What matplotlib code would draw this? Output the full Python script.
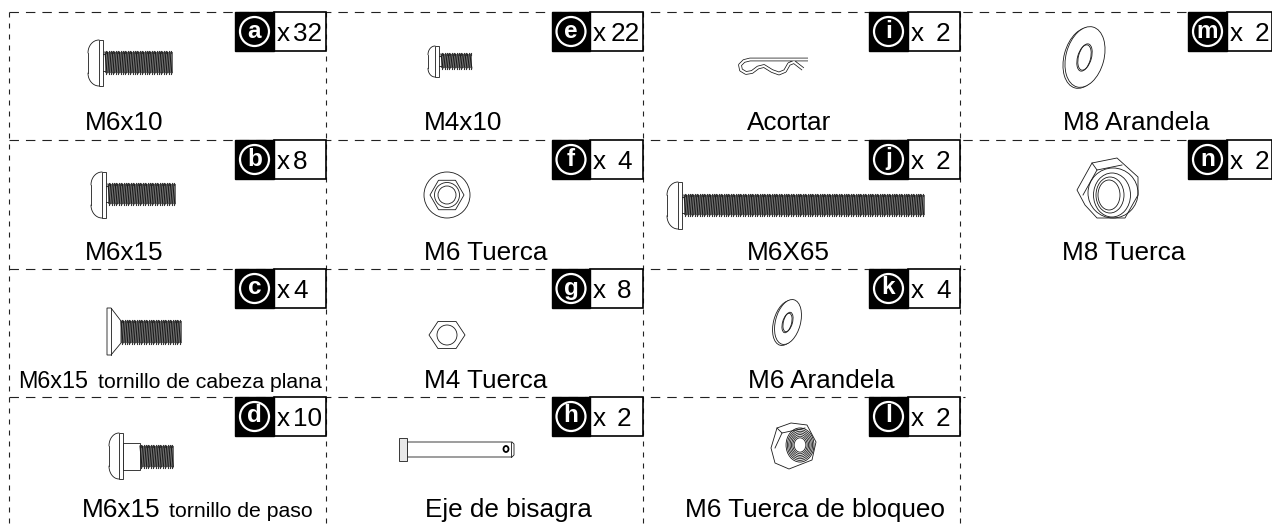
import numpy as np
import matplotlib
matplotlib.use('Agg')
import matplotlib.pyplot as plt
from matplotlib.patches import Ellipse, Polygon, Circle, Rectangle

plt.rcParams['font.family'] = ['Liberation Sans', 'DejaVu Sans']

letters = ['a', 'b', 'c', 'd', 'e', 'f', 'g', 'h', 'i', 'j', 'k', 'l', 'm', 'n']
counts = ['32', '8', '4', '10', '22', '4', '8', '2', '2', '2', '4', '2', '2', '2']
names = ['M6x10', 'M6x15', 'M6x15', 'M6x15', 'M4x10', 'M6 Tuerca', 'M4 Tuerca', 'Eje de bisagra',
         'Acortar', 'M6X65', 'M6 Arandela', 'M6 Tuerca de bloqueo', 'M8 Arandela', 'M8 Tuerca']
notes = {2: 'tornillo de cabeza plana', 3: 'tornillo de paso'}

# layout, in pixels of the picture
col_black = [235, 552, 869, 1188]
col_white = [274, 590, 908, 1227]
col_right = [326, 643, 960, 1272]
row_top = [12, 140, 269, 397]
baselines = [130, 260, 388, 517]
name_x = [124, 124, 0, 0, 463, 486, 486, 508, 789, 788, 821, 815, 1136, 1124]
digit_off = [16, 16, 16, 16, 18, 24, 24, 24, 25, 25, 25, 25, 25, 25]
slots = [(0, 0), (0, 1), (0, 2), (0, 3), (1, 0), (1, 1), (1, 2), (1, 3),
         (2, 0), (2, 1), (2, 2), (2, 3), (3, 0), (3, 1)]

fig = plt.figure(figsize=(12.72, 5.24), dpi=100)
ax = fig.add_axes([0, 0, 1, 1])
ax.set_xlim(0, 1272)
ax.set_ylim(524, 0)
ax.axis('off')

INK = '#1a1a1a'
LW = 0.6


def dash_h(y, x0, x1):
    ax.plot([x0, x1], [y, y], color='#222222', lw=0.8, dashes=(8.5, 6.3), zorder=1)


def dash_v(x, y0, y1):
    ax.plot([x, x], [y0, y1], color='#222222', lw=0.8, dashes=(4.5, 5.4), zorder=1)


def thread(x0, x1, y0, y1):
    ax.add_patch(Rectangle((x0, y0), x1 - x0, y1 - y0, fc='#6e6e6e', ec='none', zorder=2))
    for x in np.arange(x0, x1 - 2, 2.4):
        ax.plot([x, x + 2], [y0, y1], color='#1c1c1c', lw=0.8, zorder=3)
    for x in np.arange(x0 + 1.2, x1, 2.4):
        ax.plot([x, x], [y0 - 0.8, y0 + 0.8], color='#333333', lw=0.8, zorder=3)
        ax.plot([x, x], [y1 - 0.8, y1 + 0.8], color='#333333', lw=0.8, zorder=3)


def button_head(x0, x1, y0, y1):
    # rounded dome on the left, thin flange on the right
    h = y1 - y0
    a = np.linspace(0, np.pi / 2, 20)
    xr = x1 - 4
    top_x = xr - (xr - x0) * np.sin(a)
    top_y = y0 + h * 0.28 * (1 - np.cos(a))
    ax.plot(top_x, top_y, color=INK, lw=LW, zorder=3)
    ax.plot(top_x, y1 - (top_y - y0), color=INK, lw=LW, zorder=3)
    ax.plot([x0, x0], [y0 + h * 0.28, y1 - h * 0.28], color=INK, lw=LW, zorder=3)
    ax.add_patch(Rectangle((x1 - 4, y0), 4, h, fc='white', ec=INK, lw=LW, zorder=3))


def bolt(x0, x1, x2, y0, y1, ty0, ty1):
    button_head(x0, x1, y0, y1)
    ax.plot([x1, x1 + 2], [ty0 + 2, ty0 + 2], color=INK, lw=LW, zorder=3)
    ax.plot([x1, x1 + 2], [ty1 - 2, ty1 - 2], color=INK, lw=LW, zorder=3)
    thread(x1 + 2, x2, ty0, ty1)


def hexagon(cx, cy, r, rot=0.0, sy=1.0, z=3):
    a = np.radians(rot + np.arange(6) * 60)
    pts = np.c_[cx + r * np.cos(a), cy + r * sy * np.sin(a)]
    ax.add_patch(Polygon(pts, closed=True, fc='white', ec=INK, lw=LW, zorder=z))


def ring(cx, cy, w, h, angle=0.0, z=4):
    ax.add_patch(Ellipse((cx, cy), w, h, angle=angle, fc='none', ec=INK, lw=LW, zorder=z))


def washer(cx, cy, w, h, iw, ih):
    ring(cx - 2, cy + 1, w, h, 15, 3)
    ax.add_patch(Ellipse((cx, cy), w, h, angle=15, fc='white', ec=INK, lw=LW, zorder=4))
    ring(cx, cy, iw, ih, 15, 5)
    ring(cx - 1, cy + 1, iw, ih, 15, 5)


# grid
dash_h(row_top[0], 9, 1188)
dash_h(row_top[1], 9, 1188)
dash_h(row_top[2], 9, 965)
dash_h(row_top[3], 9, 965)
dash_v(9, 12, 524)
dash_v(326, 12, 524)
dash_v(643, 12, 524)
dash_v(960, 12, 524)

# tags and labels
for i, (c, r) in enumerate(slots):
    top = row_top[r]
    bl, wh, rt = col_black[c], col_white[c], col_right[c]
    ax.add_patch(Rectangle((wh, top), rt - wh, 38.5, fc='white', ec='k', lw=1.2, zorder=5))
    ax.add_patch(Rectangle((bl, top), wh - bl, 38.5, fc='k', ec='k', lw=1.0, zorder=6))
    cx = (bl + wh) / 2
    ax.add_patch(Circle((cx, top + 19.5), 14.5, fc='k', ec='white', lw=1.6, zorder=7))
    ax.text(cx, top + 19, letters[i], color='white', fontsize=17.5, fontweight='bold',
            ha='center', va='center', zorder=8)
    ax.text(wh + 3, top + 29, 'x', fontsize=18.8, ha='left', va='baseline', zorder=8)
    ax.text(wh + 3 + digit_off[i], top + 29, counts[i], fontsize=18.8, ha='left', va='baseline', zorder=8)
    if i not in notes:
        ax.text(name_x[i], baselines[r], names[i], fontsize=18.8, ha='center', va='baseline', zorder=8)

ax.text(18, baselines[2], names[2], fontsize=16.8, ha='left', va='baseline', zorder=8)
ax.text(98, baselines[2], notes[2], fontsize=15.3, ha='left', va='baseline', zorder=8)
ax.text(82, baselines[3], names[3], fontsize=18.8, ha='left', va='baseline', zorder=8)
ax.text(169, baselines[3], notes[3], fontsize=15.3, ha='left', va='baseline', zorder=8)

# a, b, e, j: button head bolts
bolt(88, 103, 173, 40, 86, 52, 73)
bolt(91, 106, 176, 172, 218, 184, 204)
bolt(428, 439, 472, 46, 77, 54, 68)
bolt(667, 682, 925, 182, 229, 195, 215)

# c: flat head
ax.add_patch(Polygon([(107, 308), (111, 308), (121, 321), (121, 343), (111, 355), (107, 355)],
                     closed=True, fc='white', ec=INK, lw=LW, zorder=3))
ax.plot([111, 111], [308, 355], color=INK, lw=LW, zorder=4)
thread(121, 182, 321, 343)

# d: shoulder bolt
button_head(109, 123, 433, 479)
ax.add_patch(Rectangle((123, 443), 17, 27, fc='white', ec=INK, lw=LW, zorder=3))
thread(140, 174, 446, 467)

# f: flange nut
ring(447, 195, 46, 46)
hexagon(447, 195, 17, z=3)
ring(447, 195, 25, 25)
ring(447, 195, 18, 18)

# g: hex nut
hexagon(447, 335, 18, sy=0.87)
ring(447, 335, 20, 20)

# h: hinge pin
ax.add_patch(Polygon([(407, 442), (512, 442), (514, 444), (514, 455), (512, 457), (407, 457)],
                     closed=True, fc='white', ec=INK, lw=LW, zorder=3))
ax.add_patch(Rectangle((399, 438), 8, 23, fc='#e8e8e8', ec=INK, lw=LW, zorder=4))
ax.add_patch(Ellipse((506, 449), 5, 6, fc='white', ec='k', lw=1.3, zorder=4))
ax.plot([511, 511], [442, 457], color=INK, lw=LW, zorder=4)

# i: hair pin clip, dark tube with a white core
clip_x = [808, 750, 744, 740, 741, 746, 752, 758, 764, 772, 779, 785, 789, 794, 803]
clip_y = [59.5, 59.5, 61, 65, 70, 73, 72, 67.5, 66, 71, 73.5, 71, 64, 62, 69]
ax.plot(clip_x, clip_y, color=INK, lw=2.6, zorder=3, solid_joinstyle='round', solid_capstyle='butt')
ax.plot(clip_x, clip_y, color='white', lw=1.5, zorder=4, solid_joinstyle='round', solid_capstyle='projecting')

# k, m: washers
washer(788, 322, 25, 46, 9, 20)
washer(1085, 57, 38, 62, 13, 27)

# l: lock nut
ax.add_patch(Polygon([(771, 448), (777, 428), (791, 423), (807, 425), (816, 442), (812, 460), (789, 469), (775, 463)],
                     closed=True, fc='white', ec=INK, lw=LW, zorder=3))
ax.plot([777, 782, 805], [428, 433, 428], color=INK, lw=LW, zorder=4)
ax.plot([782, 775], [433, 448], color=INK, lw=LW, zorder=4)
for w in (31, 28, 25, 22, 19, 16, 13):
    ring(800, 445, w * 0.9, w * 1.1)

# n: nylon lock nut
ax.add_patch(Polygon([(1077, 190), (1092, 163), (1117, 158), (1138, 177), (1138, 195), (1125, 218), (1097, 218), (1085, 205)],
                     closed=True, fc='white', ec=INK, lw=LW, zorder=3))
ax.plot([1092, 1097, 1122], [163, 170, 165], color=INK, lw=LW, zorder=4)
ax.plot([1097, 1083], [170, 195], color=INK, lw=LW, zorder=4)
ring(1113, 193, 50, 50, 0, 4)
ring(1112, 195, 37, 44, 0, 4)
ring(1110, 195, 28, 36, 0, 4)
ring(1109, 195, 22, 30, 0, 4)

fig.savefig('out.png', dpi=100)
